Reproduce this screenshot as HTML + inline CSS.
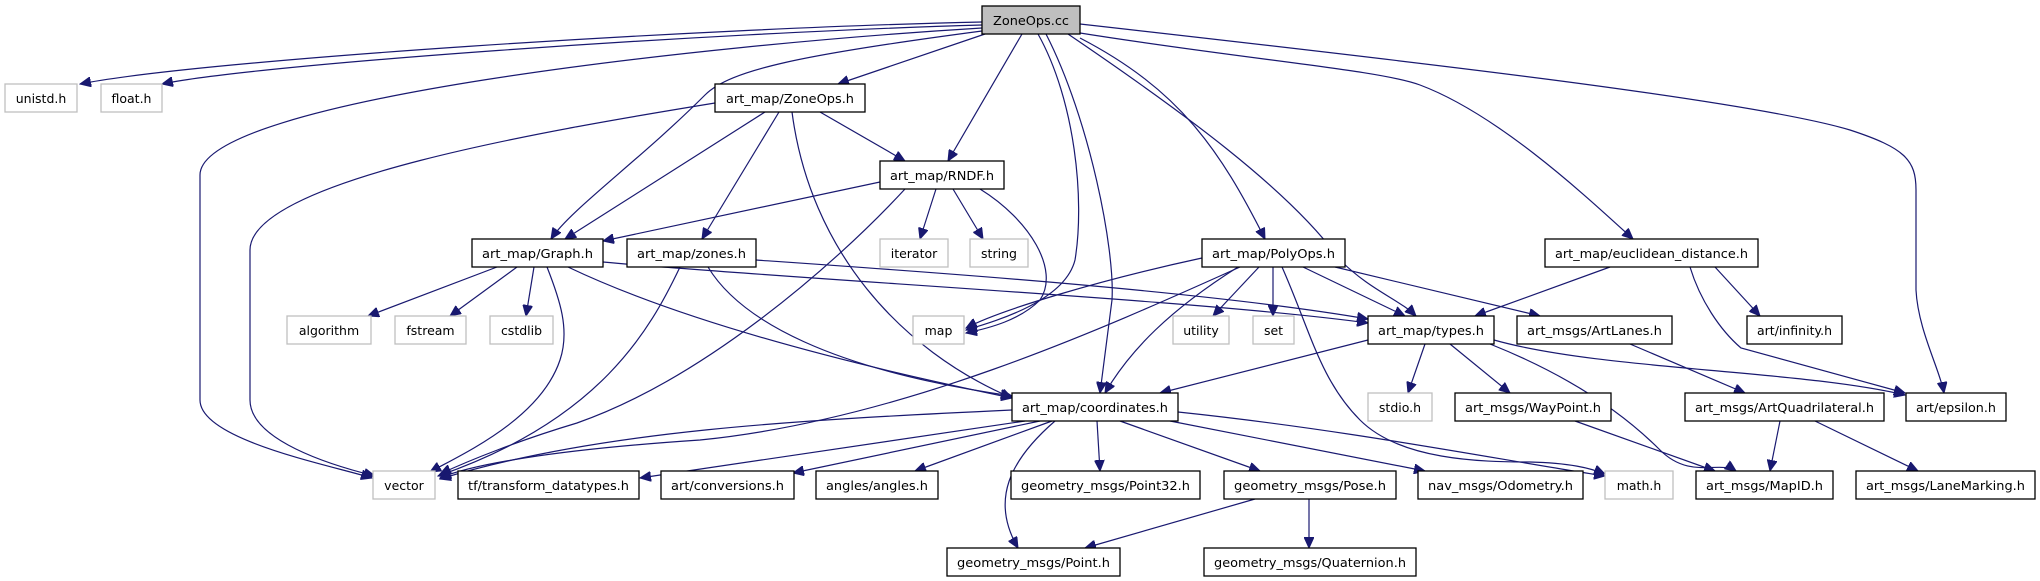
<!DOCTYPE html>
<html><head><meta charset="utf-8"><style>
html,body{margin:0;padding:0;background:#fff;}
svg{display:block;}
text{font-family:"DejaVu Sans","Liberation Sans",sans-serif;font-size:12.5px;fill:#000;text-anchor:middle;}
.n{fill:#fff;stroke:#000;stroke-width:1.3;}
.g{fill:#fff;stroke:#bfbfbf;stroke-width:1.3;}
.e{fill:none;stroke:#191970;stroke-width:1.2;marker-end:url(#a);}
</style></head><body>
<svg width="2040" height="581" viewBox="0 0 2040 581" xmlns="http://www.w3.org/2000/svg">
<defs><marker id="a" markerUnits="userSpaceOnUse" markerWidth="12" markerHeight="10" refX="11" refY="5" orient="auto"><path d="M0,0 L11,5 L0,10 z" fill="#191970" stroke="#191970"/></marker></defs>
<path class="e" d="M982,22 C700,28 200,60 80,84"/>
<path class="e" d="M982,25 C700,33 250,65 162,84"/>
<path class="e" d="M982,28 C700,45 200,100 200,175 L200,400 C200,440 330,465 372,478"/>
<path class="e" d="M982,31 C800,55 730,70 705,95 C640,160 570,210 551,239"/>
<path class="e" d="M985,34 L838,84"/>
<path class="e" d="M1022,34 L948,161"/>
<path class="e" d="M1038,34 C1075,100 1085,200 1075,260 C1065,300 1000,320 966,330"/>
<path class="e" d="M1046,34 C1090,120 1115,250 1112,300 L1100,393"/>
<path class="e" d="M1080,38 C1180,90 1220,150 1265,239"/>
<path class="e" d="M1068,34 C1180,110 1290,190 1340,260 C1370,290 1400,300 1416,316"/>
<path class="e" d="M1080,33 C1250,60 1380,70 1420,85 C1500,115 1590,200 1633,239"/>
<path class="e" d="M1080,24 C1400,60 1750,100 1850,130 C1905,148 1916,160 1916,190 L1916,290 C1918,330 1940,370 1944,393"/>

<path class="e" d="M715,103 C550,130 250,180 250,250 L250,400 C250,440 330,465 375,476"/>
<path class="e" d="M765,112 L565,239"/>
<path class="e" d="M779,112 L702,239"/>
<path class="e" d="M792,112 C810,250 900,350 1012,398"/>
<path class="e" d="M820,112 L905,161"/>

<path class="e" d="M880,182 L603,241"/>
<path class="e" d="M905,189 C830,270 700,380 577,423 C520,440 470,460 440,474"/>
<path class="e" d="M936,189 L920,239"/>
<path class="e" d="M953,189 L983,239"/>
<path class="e" d="M980,189 C1030,220 1060,270 1040,300 C1020,320 990,328 966,333"/>

<path class="e" d="M497,267 L368,316"/>
<path class="e" d="M517,267 L450,316"/>
<path class="e" d="M534,267 L526,316"/>
<path class="e" d="M547,267 C560,300 570,330 560,360 C540,420 460,455 430,472"/>
<path class="e" d="M568,267 C700,330 900,375 1012,398"/>
<path class="e" d="M603,262 C800,280 1200,300 1368,323"/>

<path class="e" d="M680,267 C650,330 600,420 438,476"/>
<path class="e" d="M708,267 C740,320 830,370 1012,396"/>
<path class="e" d="M756,260 C900,270 1200,290 1368,319"/>

<path class="e" d="M1202,258 C1100,280 1000,310 966,328"/>
<path class="e" d="M1240,267 C1100,330 900,420 700,440 C550,450 470,465 440,478"/>
<path class="e" d="M1238,267 C1170,310 1130,350 1105,393"/>
<path class="e" d="M1259,267 L1213,316"/>
<path class="e" d="M1273,267 L1273,316"/>
<path class="e" d="M1303,267 L1405,316"/>
<path class="e" d="M1335,267 L1540,316"/>
<path class="e" d="M1282,267 C1310,330 1320,380 1360,420 C1400,460 1480,462 1530,462 C1570,463 1590,468 1605,474"/>

<path class="e" d="M1610,267 L1475,316"/>
<path class="e" d="M1715,267 L1760,316"/>
<path class="e" d="M1690,267 C1700,300 1720,330 1741,348 L1905,393"/>

<path class="e" d="M1368,340 L1160,393"/>
<path class="e" d="M1425,344 L1408,393"/>
<path class="e" d="M1450,344 L1510,393"/>
<path class="e" d="M1490,344 C1580,380 1630,420 1660,450 C1690,480 1720,460 1736,471"/>
<path class="e" d="M1494,340 C1600,370 1800,370 1905,395"/>

<path class="e" d="M1630,344 L1745,393"/>

<path class="e" d="M1012,410 C800,420 600,430 440,479"/>
<path class="e" d="M1025,421 L640,478"/>
<path class="e" d="M1040,421 L793,473"/>
<path class="e" d="M1052,421 L915,471"/>
<path class="e" d="M1097,421 L1100,471"/>
<path class="e" d="M1055,421 C1010,460 990,500 1018,548"/>
<path class="e" d="M1120,421 L1260,471"/>
<path class="e" d="M1170,421 L1425,471"/>
<path class="e" d="M1178,412 C1350,430 1500,460 1605,476"/>

<path class="e" d="M1575,421 L1715,471"/>
<path class="e" d="M1780,421 L1770,471"/>
<path class="e" d="M1815,421 L1918,471"/>
<path class="e" d="M1255,499 L1085,548"/>
<path class="e" d="M1309,499 L1309,548"/>

<rect x="982" y="6" width="98" height="28" fill="#bfbfbf" stroke="#000" stroke-width="1.3"/><text x="1031" y="25" textLength="76" lengthAdjust="spacingAndGlyphs">ZoneOps.cc</text>
<rect class="g" x="5" y="84" width="72" height="28"/><text x="41" y="103">unistd.h</text>
<rect class="g" x="101" y="84" width="61" height="28"/><text x="131.5" y="103">float.h</text>
<rect class="n" x="715" y="84" width="150" height="28"/><text x="790" y="103" textLength="128" lengthAdjust="spacingAndGlyphs">art_map/ZoneOps.h</text>
<rect class="n" x="880" y="161" width="124" height="28"/><text x="942" y="180" textLength="104" lengthAdjust="spacingAndGlyphs">art_map/RNDF.h</text>
<rect class="n" x="472" y="239" width="131" height="28"/><text x="537.5" y="258" textLength="111" lengthAdjust="spacingAndGlyphs">art_map/Graph.h</text>
<rect class="n" x="627" y="239" width="129" height="28"/><text x="691.5" y="258" textLength="109" lengthAdjust="spacingAndGlyphs">art_map/zones.h</text>
<rect class="g" x="880" y="239" width="68" height="28"/><text x="914" y="258">iterator</text>
<rect class="g" x="970" y="239" width="58" height="28"/><text x="999" y="258">string</text>
<rect class="n" x="1202" y="239" width="143" height="28"/><text x="1273.5" y="258" textLength="123" lengthAdjust="spacingAndGlyphs">art_map/PolyOps.h</text>
<rect class="n" x="1545" y="239" width="213" height="28"/><text x="1651.5" y="258" textLength="193" lengthAdjust="spacingAndGlyphs">art_map/euclidean_distance.h</text>
<rect class="g" x="287" y="316" width="84" height="28"/><text x="329" y="335">algorithm</text>
<rect class="g" x="395" y="316" width="71" height="28"/><text x="430.5" y="335">fstream</text>
<rect class="g" x="490" y="316" width="63" height="28"/><text x="521.5" y="335">cstdlib</text>
<rect class="g" x="913" y="316" width="51" height="28"/><text x="938.5" y="335">map</text>
<rect class="g" x="1173" y="316" width="56" height="28"/><text x="1201" y="335">utility</text>
<rect class="g" x="1253" y="316" width="41" height="28"/><text x="1273.5" y="335">set</text>
<rect class="n" x="1368" y="316" width="126" height="28"/><text x="1431" y="335" textLength="106" lengthAdjust="spacingAndGlyphs">art_map/types.h</text>
<rect class="n" x="1517" y="316" width="155" height="28"/><text x="1594.5" y="335" textLength="135" lengthAdjust="spacingAndGlyphs">art_msgs/ArtLanes.h</text>
<rect class="n" x="1747" y="316" width="95" height="28"/><text x="1794.5" y="335" textLength="75" lengthAdjust="spacingAndGlyphs">art/infinity.h</text>
<rect class="n" x="1012" y="393" width="166" height="28"/><text x="1095" y="412" textLength="146" lengthAdjust="spacingAndGlyphs">art_map/coordinates.h</text>
<rect class="g" x="1368" y="393" width="64" height="28"/><text x="1400" y="412">stdio.h</text>
<rect class="n" x="1455" y="393" width="156" height="28"/><text x="1533" y="412" textLength="136" lengthAdjust="spacingAndGlyphs">art_msgs/WayPoint.h</text>
<rect class="n" x="1685" y="393" width="199" height="28"/><text x="1784.5" y="412" textLength="179" lengthAdjust="spacingAndGlyphs">art_msgs/ArtQuadrilateral.h</text>
<rect class="n" x="1906" y="393" width="100" height="28"/><text x="1956" y="412" textLength="80" lengthAdjust="spacingAndGlyphs">art/epsilon.h</text>
<rect class="g" x="373" y="471" width="62" height="28"/><text x="404" y="490">vector</text>
<rect class="n" x="458" y="471" width="181" height="28"/><text x="548.5" y="490" textLength="161" lengthAdjust="spacingAndGlyphs">tf/transform_datatypes.h</text>
<rect class="n" x="661" y="471" width="133" height="28"/><text x="727.5" y="490" textLength="113" lengthAdjust="spacingAndGlyphs">art/conversions.h</text>
<rect class="n" x="816" y="471" width="122" height="28"/><text x="877" y="490" textLength="102" lengthAdjust="spacingAndGlyphs">angles/angles.h</text>
<rect class="n" x="1011" y="471" width="189" height="28"/><text x="1105.5" y="490" textLength="169" lengthAdjust="spacingAndGlyphs">geometry_msgs/Point32.h</text>
<rect class="n" x="1224" y="471" width="172" height="28"/><text x="1310" y="490" textLength="152" lengthAdjust="spacingAndGlyphs">geometry_msgs/Pose.h</text>
<rect class="n" x="1418" y="471" width="165" height="28"/><text x="1500.5" y="490" textLength="145" lengthAdjust="spacingAndGlyphs">nav_msgs/Odometry.h</text>
<rect class="g" x="1605" y="471" width="68" height="28"/><text x="1639" y="490">math.h</text>
<rect class="n" x="1696" y="471" width="137" height="28"/><text x="1764.5" y="490" textLength="117" lengthAdjust="spacingAndGlyphs">art_msgs/MapID.h</text>
<rect class="n" x="1856" y="471" width="179" height="28"/><text x="1945.5" y="490" textLength="159" lengthAdjust="spacingAndGlyphs">art_msgs/LaneMarking.h</text>
<rect class="n" x="947" y="548" width="173" height="28"/><text x="1033.5" y="567" textLength="153" lengthAdjust="spacingAndGlyphs">geometry_msgs/Point.h</text>
<rect class="n" x="1204" y="548" width="212" height="28"/><text x="1310" y="567" textLength="192" lengthAdjust="spacingAndGlyphs">geometry_msgs/Quaternion.h</text>
</svg>
</body></html>
